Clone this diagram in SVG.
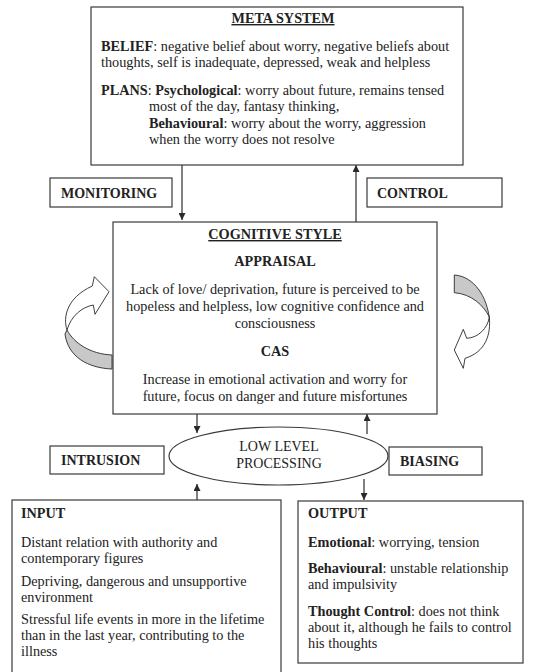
<svg xmlns="http://www.w3.org/2000/svg" width="536" height="672" viewBox="0 0 536 672">
  <style>
    .box { fill: #fff; stroke: #3a3a3a; stroke-width: 1.2; }
    .t { font-family: "Liberation Serif", "Times New Roman", serif; font-size: 14.25px; fill: #222; }
    .b { font-weight: bold; }
    .l { font-size: 14px; }
    .c { text-anchor: middle; }
    .u { text-decoration: underline; }
    .conn { stroke: #2a2a2a; stroke-width: 1.2; fill: none; marker-end: url(#head); }
    .curl { stroke: #2a2a2a; stroke-width: 0.9; stroke-linejoin: round; }
  </style>
  <defs>
    <marker id="head" viewBox="0 0 10 10" refX="10" refY="5" markerWidth="7" markerHeight="7" markerUnits="userSpaceOnUse" orient="auto">
      <path d="M0,0 L10,5 L0,10 Z" fill="#2a2a2a"/>
    </marker>
  </defs>
  <rect width="536" height="672" fill="#fff"/>

  <!-- connectors -->
  <g id="connectors">
    <line class="conn" x1="182" y1="165" x2="182" y2="220"/>
    <line class="conn" x1="356" y1="222" x2="356" y2="165"/>
    <line class="conn" x1="197" y1="414" x2="197" y2="433"/>
    <line class="conn" x1="367" y1="434" x2="367" y2="414"/>
    <line class="conn" x1="197" y1="500" x2="197" y2="484"/>
    <line class="conn" x1="364" y1="479" x2="364" y2="500"/>
  </g>

  <!-- meta system -->
  <g id="meta-system">
    <rect class="box" x="91" y="7" width="372" height="158"/>
    <text class="t b c u" x="283" y="23">META SYSTEM</text>
    <text class="t" x="101" y="51"><tspan class="b">BELIEF</tspan>: negative belief about worry, negative beliefs about</text>
    <text class="t" x="101" y="67">thoughts, self is inadequate, depressed, weak and helpless</text>
    <text class="t" x="101" y="95"><tspan class="b">PLANS</tspan>: <tspan class="b">Psychological</tspan>: worry about future, remains tensed</text>
    <text class="t" x="149" y="111">most of the day, fantasy thinking,</text>
    <text class="t" x="149" y="128"><tspan class="b">Behavioural</tspan>: worry about the worry, aggression</text>
    <text class="t" x="149" y="144">when the worry does not resolve</text>
  </g>

  <g id="monitoring">
    <rect class="box" x="50" y="178" width="122" height="29"/>
    <text class="t b l" x="61" y="198">MONITORING</text>
  </g>

  <g id="control">
    <rect class="box" x="367" y="178" width="135" height="29"/>
    <text class="t b l" x="377" y="198">CONTROL</text>
  </g>

  <!-- cognitive style -->
  <g id="cognitive-style">
    <rect class="box" x="113" y="222" width="324" height="192"/>
    <text class="t b c u" x="275" y="239">COGNITIVE STYLE</text>
    <text class="t b c" x="275" y="266">APPRAISAL</text>
    <text class="t c" x="275" y="294">Lack of love/ deprivation, future is perceived to be</text>
    <text class="t c" x="275" y="311">hopeless and helpless, low cognitive confidence and</text>
    <text class="t c" x="275" y="328">consciousness</text>
    <text class="t b c" x="275" y="356">CAS</text>
    <text class="t c" x="275" y="384">Increase in emotional activation and worry for</text>
    <text class="t c" x="275" y="401">future, focus on danger and future misfortunes</text>
  </g>

  <!-- left loop arrow -->
  <g id="loop-left">
    <path class="curl" fill="#c8c8c8" d="M67,330 C74,343 90,354 112,355 L112,369 C88,368 68,357 65,334 Z"/>
    <path class="curl" fill="#fff" d="M92.3,286 L94.3,276.7 L109,291.7 L95,314.3 L93.3,305 C82,307 71,316 67,330 C63,318 66,298 92.3,286 Z"/>
  </g>

  <!-- right loop arrow -->
  <g id="loop-right">
    <path class="curl" fill="#c8c8c8" d="M454.3,275 C470,276 485,290 489.3,317 C484,306 472,294 454.3,292.7 Z"/>
    <path class="curl" fill="#fff" d="M489.3,317 C491,334 486,352 465,358.3 L463.3,368.3 L454.3,350 L463.3,329.3 L466.7,338.3 C478,338 488,328 489.3,317 Z"/>
  </g>

  <g id="intrusion">
    <rect class="box" x="50" y="446" width="114" height="28"/>
    <text class="t b l" x="61" y="465">INTRUSION</text>
  </g>

  <g id="low-level-processing">
    <ellipse class="box" cx="278.5" cy="456" rx="109.5" ry="29"/>
    <text class="t c l" x="279" y="451" fill="#333">LOW LEVEL</text>
    <text class="t c l" x="279" y="468" fill="#333">PROCESSING</text>
  </g>

  <g id="biasing">
    <rect class="box" x="389" y="447" width="93" height="28"/>
    <text class="t b l" x="400" y="466">BIASING</text>
  </g>

  <!-- input -->
  <g id="input">
    <rect class="box" x="12" y="500" width="269" height="180"/>
    <text class="t b" x="21" y="518">INPUT</text>
    <text class="t" x="21" y="547">Distant relation with authority and</text>
    <text class="t" x="21" y="563">contemporary figures</text>
    <text class="t" x="21" y="586">Depriving, dangerous and unsupportive</text>
    <text class="t" x="21" y="602">environment</text>
    <text class="t" x="21" y="624">Stressful life events in more in the lifetime</text>
    <text class="t" x="21" y="640">than in the last year, contributing to the</text>
    <text class="t" x="21" y="656">illness</text>
  </g>

  <!-- output -->
  <g id="output">
    <rect class="box" x="298" y="501" width="225" height="162"/>
    <text class="t b" x="308" y="518">OUTPUT</text>
    <text class="t" x="308" y="547"><tspan class="b">Emotional</tspan>: worrying, tension</text>
    <text class="t" x="308" y="573"><tspan class="b">Behavioural</tspan>: unstable relationship</text>
    <text class="t" x="308" y="589">and impulsivity</text>
    <text class="t" x="308" y="616"><tspan class="b">Thought Control</tspan>: does not think</text>
    <text class="t" x="308" y="632">about it, although he fails to control</text>
    <text class="t" x="308" y="648">his thoughts</text>
  </g>
</svg>
